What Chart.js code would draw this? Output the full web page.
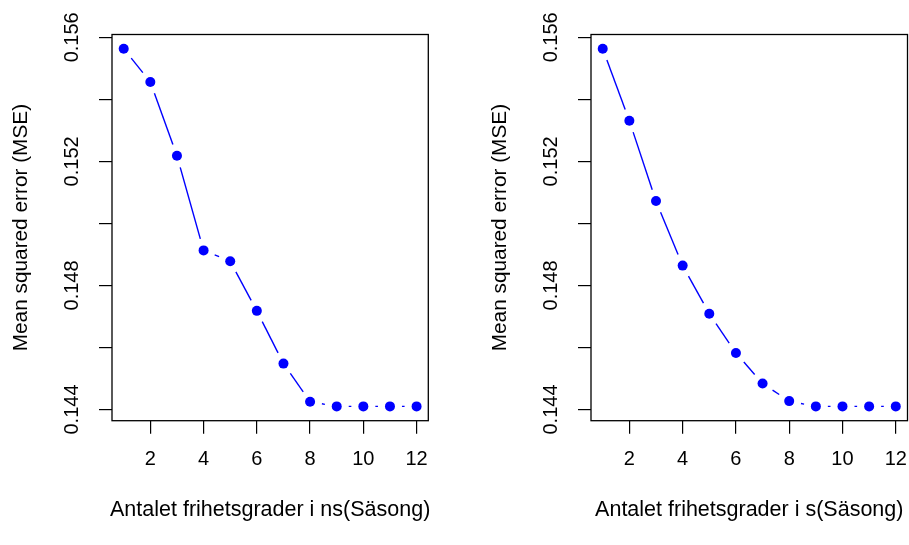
<!DOCTYPE html>
<html>
<head>
<meta charset="utf-8">
<script src="https://cdn.jsdelivr.net/npm/chart.js@4/dist/chart.umd.min.js"></script>
<style>
  html, body { margin: 0; padding: 0; background: #fff; }
  body { width: 909px; height: 545px; position: relative; overflow: hidden; }
  canvas { position: absolute; top: 0; }
</style>
</head>
<body>
<canvas id="left" width="455" height="545" style="left:0"></canvas>
<canvas id="right" width="470" height="545" style="left:455px"></canvas>
<script>
// degrees of freedom 1..12
const df = [1, 2, 3, 4, 5, 6, 7, 8, 9, 10, 11, 12];
// MSE for ns(Säsong)
const mseNs = [0.15563, 0.15456, 0.15218, 0.14913, 0.14878, 0.14718, 0.14548, 0.14425, 0.14410, 0.14410, 0.14410, 0.14410];
// MSE for s(Säsong)
const mseS = [0.15563, 0.15331, 0.15072, 0.14864, 0.14709, 0.14582, 0.14484, 0.14427, 0.14410, 0.14410, 0.14410, 0.14410];

const xTicks = [2, 4, 6, 8, 10, 12];
const yTicks = [0.144, 0.146, 0.148, 0.150, 0.152, 0.154, 0.156];
const yLabels = [0.144, 0.148, 0.152, 0.156];

const yTitle = 'Mean squared error (MSE)';
const FAMILY = '"Liberation Sans", Arial, Helvetica, sans-serif';
const BLUE = '#0000ff';
const GAP = 12;

// R style axis range: 4% extension
function padRange(arr) {
  const lo = Math.min(...arr), hi = Math.max(...arr);
  const d = (hi - lo) * 0.04;
  return [lo - d, hi + d];
}

// type = "b": line segments between the points, broken near each point
const rLines = {
  id: 'rLines',
  beforeDatasetsDraw(chart) {
    const { ctx, chartArea: a } = chart;
    const pts = chart.getDatasetMeta(0).data;
    ctx.save();
    ctx.beginPath();
    ctx.rect(a.left, a.top, a.right - a.left, a.bottom - a.top);
    ctx.clip();
    ctx.strokeStyle = BLUE;
    ctx.lineWidth = 1.4;
    for (let i = 1; i < pts.length; i++) {
      const p0 = pts[i - 1], p1 = pts[i];
      const dx = p1.x - p0.x, dy = p1.y - p0.y;
      const len = Math.hypot(dx, dy);
      if (len <= 2 * GAP) continue;
      const ux = dx / len, uy = dy / len;
      ctx.beginPath();
      ctx.moveTo(p0.x + ux * GAP, p0.y + uy * GAP);
      ctx.lineTo(p1.x - ux * GAP, p1.y - uy * GAP);
      ctx.stroke();
    }
    ctx.restore();
  }
};

const rText = {
  id: 'rText',
  afterDraw(chart, args, opts) {
    const { ctx, chartArea: a, scales: { x, y } } = chart;
    ctx.save();
    ctx.strokeStyle = '#000';
    ctx.lineWidth = 1.3;
    ctx.strokeRect(a.left, a.top, a.right - a.left, a.bottom - a.top);
    ctx.fillStyle = '#000';
    ctx.textAlign = 'center';
    ctx.textBaseline = 'middle';
    ctx.font = '20px ' + FAMILY;
    xTicks.forEach(v => ctx.fillText(String(v), x.getPixelForValue(v), a.bottom + 39));
    yLabels.forEach(v => {
      ctx.save();
      ctx.translate(a.left - 39.5, y.getPixelForValue(v));
      ctx.rotate(-Math.PI / 2);
      ctx.fillText(v.toFixed(3), 0, 0);
      ctx.restore();
    });
    ctx.font = '21.5px ' + FAMILY;
    ctx.fillText(opts.xTitle, (a.left + a.right) / 2, a.bottom + 89.5);
    ctx.save();
    ctx.font = '20.8px ' + FAMILY;
    ctx.translate(a.left - 90.3, (a.top + a.bottom) / 2);
    ctx.rotate(-Math.PI / 2);
    ctx.fillText(yTitle, 0, 0);
    ctx.restore();
    ctx.restore();
  }
};

function makePanel(id, values, xTitle, padLeft, padRight) {
  const [ymin, ymax] = padRange(values);
  const [xmin, xmax] = padRange(df);
  new Chart(document.getElementById(id), {
    type: 'scatter',
    data: {
      datasets: [{
        data: df.map((d, i) => ({ x: d, y: values[i] })),
        showLine: false,
        pointRadius: 5,
        pointBackgroundColor: BLUE,
        pointBorderWidth: 0
      }]
    },
    options: {
      responsive: false,
      animation: false,
      events: [],
      layout: { padding: { top: 34.5, right: padRight, left: 0, bottom: 0 } },
      plugins: { legend: { display: false }, tooltip: { enabled: false }, rText: { xTitle } },
      scales: {
        x: {
          type: 'linear', min: xmin, max: xmax,
          afterBuildTicks: s => { s.ticks = xTicks.map(v => ({ value: v })); },
          afterFit: s => { s.height = 124.3; },
          ticks: { display: false },
          grid: { drawOnChartArea: false, drawTicks: true, tickLength: 13, color: '#000', lineWidth: 1.2 },
          border: { display: false }
        },
        y: {
          type: 'linear', min: ymin, max: ymax,
          afterBuildTicks: s => { s.ticks = yTicks.map(v => ({ value: v })); },
          afterFit: s => { s.width = padLeft; },
          ticks: { display: false },
          grid: { drawOnChartArea: false, drawTicks: true, tickLength: 13, color: '#000', lineWidth: 1.2 },
          border: { display: false }
        }
      }
    },
    plugins: [rLines, rText]
  });
}

makePanel('left', mseNs, 'Antalet frihetsgrader i ns(Säsong)', 112, 26.7);
makePanel('right', mseS, 'Antalet frihetsgrader i s(Säsong)', 136, 17.5);
</script>
</body>
</html>
